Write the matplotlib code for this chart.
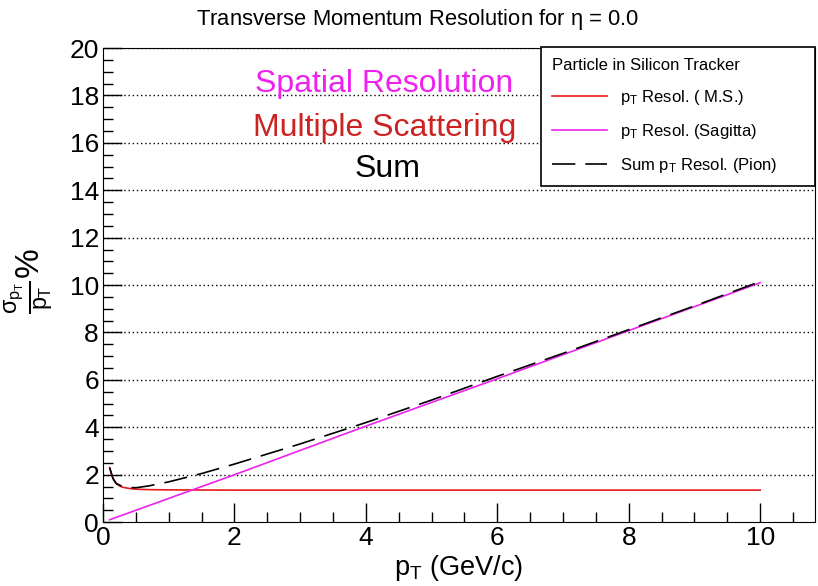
import matplotlib
matplotlib.use("Agg")
import matplotlib.pyplot as plt
from matplotlib.ticker import MultipleLocator
from matplotlib.lines import Line2D

plt.rcParams["font.family"] = ["Liberation Sans", "DejaVu Sans"]
plt.rcParams["mathtext.fontset"] = "custom"
plt.rcParams["mathtext.rm"] = "Liberation Sans"
plt.rcParams["mathtext.it"] = "Liberation Sans"

# multiple scattering term
ms_pt = [0.1, 0.13, 0.16, 0.2, 0.25, 0.3, 0.4, 0.5, 0.7, 1.0, 2.0, 4.0, 6.0, 8.0, 10.0]
ms_res = [2.3, 2.0, 1.78, 1.63, 1.53, 1.47, 1.42, 1.39, 1.37, 1.36, 1.35, 1.35, 1.35, 1.35, 1.35]

# sagitta (spatial resolution) term
sag_pt = [0.1, 2.0, 4.0, 6.0, 8.0, 10.0]
sag_res = [0.1, 2.0, 4.05, 6.05, 8.08, 10.1]

# quadrature sum
sum_pt = [0.1, 0.15, 0.2, 0.3, 0.4, 0.5, 0.7, 1.0, 1.5, 2.0, 3.0, 4.0, 5.0, 6.0, 7.0, 8.0, 9.0, 10.0]
sum_res = [2.3, 1.85, 1.63, 1.5, 1.46, 1.45, 1.53, 1.7, 2.05, 2.45, 3.3, 4.2, 5.15, 6.15, 7.12, 8.12, 9.12, 10.15]

legend_labels = [r"p$_{\mathregular{T}}$ Resol. ( M.S.)",
                 r"p$_{\mathregular{T}}$ Resol. (Sagitta)",
                 r"Sum p$_{\mathregular{T}}$ Resol. (Pion)"]

fig = plt.figure(figsize=(8.18, 5.86), dpi=100)
ax = fig.add_axes([0.126, 0.109, 0.870, 0.809])

for y in range(2, 21, 2):
    ax.axhline(y, color="black", linestyle=(0, (1, 2)), linewidth=1.0, zorder=1)

ax.plot(ms_pt, ms_res, color="#e8191b", linewidth=1.2, zorder=3)
ax.plot(sag_pt, sag_res, color="#ee22ee", linewidth=1.2, zorder=3)
ax.plot(sum_pt, sum_res, color="black", linewidth=1.2, dashes=(14, 6), zorder=4)

ax.set_xlim(0, 10.83)
ax.set_ylim(0, 20)
ax.xaxis.set_major_locator(MultipleLocator(2))
ax.xaxis.set_minor_locator(MultipleLocator(0.5))
ax.yaxis.set_major_locator(MultipleLocator(2))
ax.yaxis.set_minor_locator(MultipleLocator(0.5))
ax.tick_params(which="both", direction="in", top=False, right=False, labelsize=19, width=1)
ax.tick_params(which="major", length=14)
ax.tick_params(which="minor", length=7)
ax.tick_params(axis="x", which="major", pad=3)
ax.tick_params(axis="y", which="major", pad=3)

ax.set_xlabel(r"p$_{\mathregular{T}}$ (GeV/c)", fontsize=19.5, labelpad=0)
ax.xaxis.set_label_coords(0.5, -0.065)
fig.text(0.035, 0.52, r"$\frac{\sigma_{p_T}}{p_T}$%", rotation=90, fontsize=24,
         ha="center", va="center")

fig.text(0.511, 0.966, r"Transverse Momentum Resolution for $\eta$ = 0.0",
         ha="center", va="center", fontsize=15.8)

ax.text(0.395, 0.925, "Spatial Resolution", transform=ax.transAxes, color="#ee22ee",
        fontsize=23, ha="center", va="center")
ax.text(0.395, 0.832, "Multiple Scattering", transform=ax.transAxes, color="#cc2222",
        fontsize=23, ha="center", va="center")
ax.text(0.4, 0.745, "Sum", transform=ax.transAxes, color="black",
        fontsize=23, ha="center", va="center")

handles = [Line2D([], [], color="#e8191b", linewidth=1.2),
           Line2D([], [], color="#ee22ee", linewidth=1.2),
           Line2D([], [], color="black", linewidth=1.2, dashes=(14, 6))]
leg = ax.legend(handles, legend_labels, title="Particle in Silicon Tracker",
                loc="upper left", bbox_to_anchor=(0.615, 0.0, 0.385, 1.002),
                mode="expand", borderaxespad=0, fontsize=12, title_fontsize=12,
                frameon=True, fancybox=False, framealpha=1, edgecolor="black",
                handlelength=3.3, labelspacing=0.9, borderpad=0.65, alignment="left")
leg.get_frame().set_linewidth(1.2)

fig.savefig("out.png", dpi=100)
